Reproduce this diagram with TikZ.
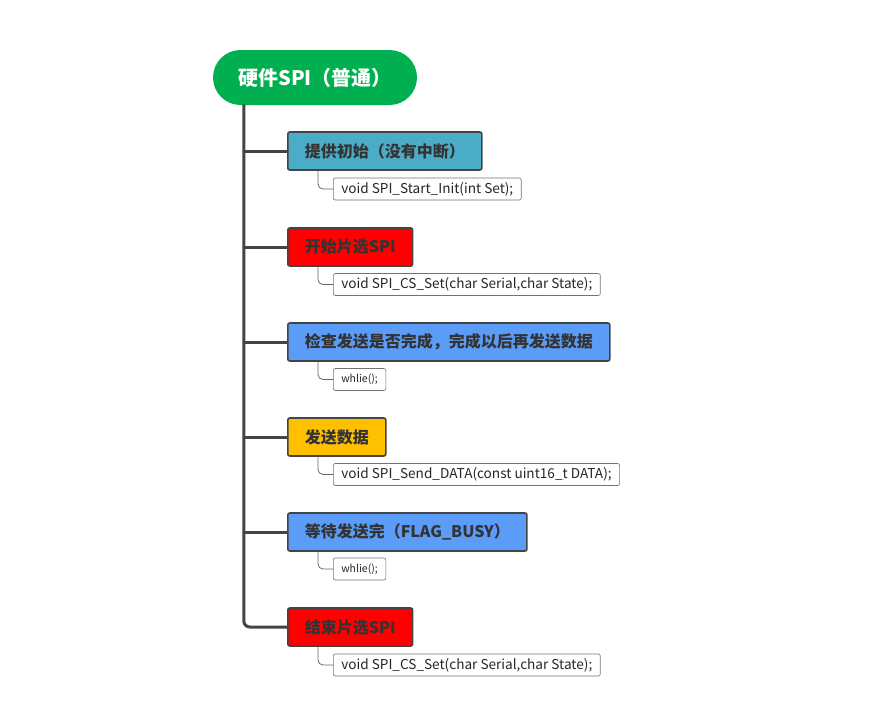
\documentclass[tikz,border=0pt]{standalone}
\usepackage{fontspec}
\setmainfont{Noto Sans CJK SC}
\usetikzlibrary{calc}

\definecolor{rootgreen}{HTML}{00B050}
\definecolor{tealblue}{HTML}{4BACC8}
\definecolor{skyblue}{HTML}{5B9CF8}
\definecolor{ambery}{HTML}{FFC000}
\definecolor{redfill}{HTML}{FF0000}
\definecolor{edgegrey}{HTML}{444444}

\begin{document}
\begin{tikzpicture}[x=1pt,y=-1pt]
        \tikzstyle{root}=[rounded corners=27.5pt,fill=rootgreen,text=white,font=\fontsize{20}{24}\selectfont\bfseries,minimum height=55pt,minimum width=204pt,inner sep=0pt]
        \tikzstyle{topic}=[draw=edgegrey,line width=1.6pt,rounded corners=2pt,text=black!80,font=\fontsize{16}{19}\selectfont\bfseries,minimum height=38pt,inner xsep=17pt,anchor=west]
        \tikzstyle{code}=[draw=black!55,line width=0.6pt,rounded corners=2pt,fill=white,text=black!85,font=\fontsize{13.6}{16}\selectfont,minimum height=22pt,inner xsep=8pt,inner ysep=0pt,anchor=west]
        \tikzstyle{small code}=[code,font=\fontsize{10.5}{13}\selectfont,inner xsep=8pt]
        \tikzstyle{trunk}=[draw=edgegrey,line width=3pt,line cap=round]
        \tikzstyle{twig}=[draw=black!60,line width=0.8pt,rounded corners=5pt]

        \useasboundingbox (0,0) rectangle (896,720);

        % Root topic
        \node[root] (root) at (315,77.5) {硬件SPI（普通）};

        % Main topics
        \node[topic,fill=tealblue] (T1) at (287,151) {提供初始（没有中断）};
        \node[topic,fill=redfill] (T2) at (287,247) {开始片选SPI};
        \node[topic,fill=skyblue] (T3) at (287,342) {检查发送是否完成，完成以后再发送数据};
        \node[topic,fill=ambery] (T4) at (287,437) {发送数据};
        \node[topic,fill=skyblue] (T5) at (287,532) {等待发送完（FLAG\_BUSY）};
        \node[topic,fill=redfill] (T6) at (287,627) {结束片选SPI};

        % Code lines under each topic
        \node[code] (C1) at (333,189) {void SPI\_Start\_Init(int Set);};
        \node[code] (C2) at (333,284.5) {void SPI\_CS\_Set(char Serial,char State);};
        \node[small code] (C3) at (333,379.5) {whlie();};
        \node[code] (C4) at (333,474.5) {void SPI\_Send\_DATA(const uint16\_t DATA);};
        \node[small code] (C5) at (333,569) {whlie();};
        \node[code] (C6) at (333,665) {void SPI\_CS\_Set(char Serial,char State);};

        % Trunk from the root down to the last topic
        \coordinate (tr) at ($(root.south west)+(31,0)$);
        \draw[trunk,rounded corners=6pt] (tr) |- (T6.west);
        \foreach \i in {1,...,5}
            \draw[trunk] (tr |- T\i.west) -- (T\i.west);

        % Connect every topic with its code line
        \foreach \i in {1,...,6}
            \draw[twig] ($(T\i.south west)+(31,0)$) |- (C\i.west);

\end{tikzpicture}
\end{document}
